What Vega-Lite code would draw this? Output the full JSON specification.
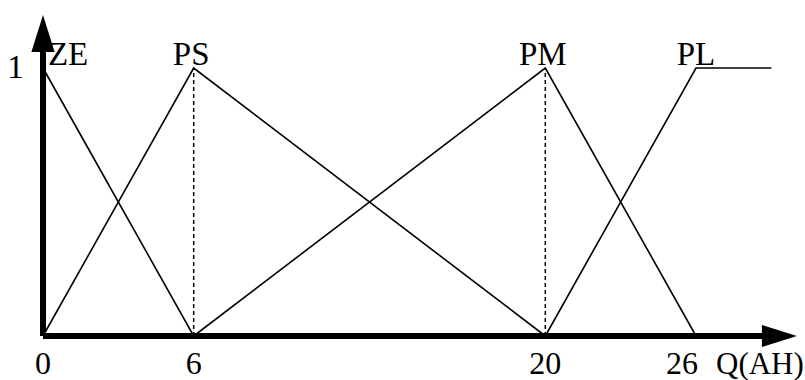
{
  "$schema": "https://vega.github.io/schema/vega-lite/v6.json",
  "width": 805,
  "height": 380,
  "autosize": "none",
  "padding": 0,
  "background": "white",
  "config": {"view": {"stroke": null}},
  "datasets": {
    "curves": [
      {"set": "ZE", "x": 0, "y": 1, "o": 0},
      {"set": "ZE", "x": 6, "y": 0, "o": 1},
      {"set": "PS", "x": 0, "y": 0, "o": 0},
      {"set": "PS", "x": 6, "y": 1, "o": 1},
      {"set": "PS", "x": 20, "y": 0, "o": 2},
      {"set": "PM", "x": 6, "y": 0, "o": 0},
      {"set": "PM", "x": 20, "y": 1, "o": 1},
      {"set": "PM", "x": 26, "y": 0, "o": 2},
      {"set": "PL", "x": 20, "y": 0, "o": 0},
      {"set": "PL", "x": 26, "y": 1, "o": 1},
      {"set": "PL", "x": 29, "y": 1, "o": 2}
    ],
    "peaks": [
      {"x": 6, "y0": 0, "y1": 1},
      {"x": 20, "y0": 0, "y1": 1}
    ],
    "names": [
      {"label": "ZE", "x": 1.0, "y": 1},
      {"label": "PS", "x": 5.9, "y": 1},
      {"label": "PM", "x": 19.9, "y": 1},
      {"label": "PL", "x": 26.0, "y": 1}
    ],
    "xticks": [
      {"label": "0", "x": 0, "y": 0},
      {"label": "6", "x": 6, "y": 0},
      {"label": "20", "x": 20, "y": 0}
    ],
    "xticksRight": [
      {"label": "26", "x": 26, "y": 0}
    ],
    "xtitle": [
      {"label": "Q(AH)", "x": 26, "y": 0}
    ],
    "yticks": [
      {"label": "1", "x": 0, "y": 1}
    ],
    "axes": [
      {"axis": "x", "x": 0, "x2": 28.9, "y": 0, "y2": 0},
      {"axis": "y", "x": 0, "x2": 0, "y": 0, "y2": 1.07}
    ],
    "heads": [
      {"axis": "x", "x": 29.32, "y": 0},
      {"axis": "y", "x": 0, "y": 1.1287}
    ]
  },
  "layer": [
    {
      "data": {"name": "curves"},
      "mark": {"type": "line", "color": "black", "strokeWidth": 1.6},
      "encoding": {
        "x": {
          "field": "x", "type": "quantitative",
          "scale": {"domain": [0, 26], "range": [43, 696], "nice": false, "zero": false},
          "axis": null
        },
        "y": {
          "field": "y", "type": "quantitative",
          "scale": {"domain": [0, 1], "range": [336, 68], "nice": false, "zero": false},
          "axis": null
        },
        "detail": {"field": "set"},
        "order": {"field": "o"}
      }
    },
    {
      "data": {"name": "peaks"},
      "mark": {"type": "rule", "color": "black", "strokeWidth": 1.5, "strokeDash": [4, 3]},
      "encoding": {
        "x": {"field": "x", "type": "quantitative", "axis": null},
        "y": {"field": "y0", "type": "quantitative", "axis": null},
        "y2": {"field": "y1"}
      }
    },
    {
      "data": {"name": "axes"},
      "mark": {"type": "rule", "color": "black", "strokeWidth": 6, "strokeCap": "butt"},
      "encoding": {
        "x": {"field": "x", "type": "quantitative", "axis": null},
        "x2": {"field": "x2"},
        "y": {"field": "y", "type": "quantitative", "axis": null},
        "y2": {"field": "y2"}
      }
    },
    {
      "data": {"name": "heads"},
      "transform": [{"filter": "datum.axis == 'x'"}],
      "mark": {"type": "point", "filled": true, "color": "black", "opacity": 1, "strokeWidth": 0,
               "shape": "M-1,-0.63L1,0L-1,0.63Z", "size": 1225},
      "encoding": {
        "x": {"field": "x", "type": "quantitative", "axis": null},
        "y": {"field": "y", "type": "quantitative", "axis": null}
      }
    },
    {
      "data": {"name": "heads"},
      "transform": [{"filter": "datum.axis == 'y'"}],
      "mark": {"type": "point", "filled": true, "color": "black", "opacity": 1, "strokeWidth": 0,
               "shape": "M-0.63,1L0,-1L0.63,1Z", "size": 1369},
      "encoding": {
        "x": {"field": "x", "type": "quantitative", "axis": null},
        "y": {"field": "y", "type": "quantitative", "axis": null}
      }
    },
    {
      "data": {"name": "names"},
      "mark": {"type": "text", "font": "Liberation Serif", "fontSize": 33, "color": "black",
               "baseline": "alphabetic", "align": "center", "dy": -3},
      "encoding": {
        "x": {"field": "x", "type": "quantitative", "axis": null},
        "y": {"field": "y", "type": "quantitative", "axis": null},
        "text": {"field": "label"}
      }
    },
    {
      "data": {"name": "xticks"},
      "mark": {"type": "text", "font": "Liberation Serif", "fontSize": 32, "color": "black",
               "baseline": "alphabetic", "align": "center", "dy": 38},
      "encoding": {
        "x": {"field": "x", "type": "quantitative", "axis": null},
        "y": {"field": "y", "type": "quantitative", "axis": null},
        "text": {"field": "label"}
      }
    },
    {
      "data": {"name": "xticksRight"},
      "mark": {"type": "text", "font": "Liberation Serif", "fontSize": 32, "color": "black",
               "baseline": "alphabetic", "align": "right", "dx": 2, "dy": 38},
      "encoding": {
        "x": {"field": "x", "type": "quantitative", "axis": null},
        "y": {"field": "y", "type": "quantitative", "axis": null},
        "text": {"field": "label"}
      }
    },
    {
      "data": {"name": "xtitle"},
      "mark": {"type": "text", "font": "Liberation Serif", "fontSize": 31, "color": "black",
               "baseline": "alphabetic", "align": "left", "dx": 20, "dy": 38},
      "encoding": {
        "x": {"field": "x", "type": "quantitative", "axis": null},
        "y": {"field": "y", "type": "quantitative", "axis": null},
        "text": {"field": "label"}
      }
    },
    {
      "data": {"name": "yticks"},
      "mark": {"type": "text", "font": "Liberation Serif", "fontSize": 34, "color": "black",
               "baseline": "alphabetic", "align": "right", "dx": -19, "dy": 10},
      "encoding": {
        "x": {"field": "x", "type": "quantitative", "axis": null},
        "y": {"field": "y", "type": "quantitative", "axis": null},
        "text": {"field": "label"}
      }
    }
  ]
}
